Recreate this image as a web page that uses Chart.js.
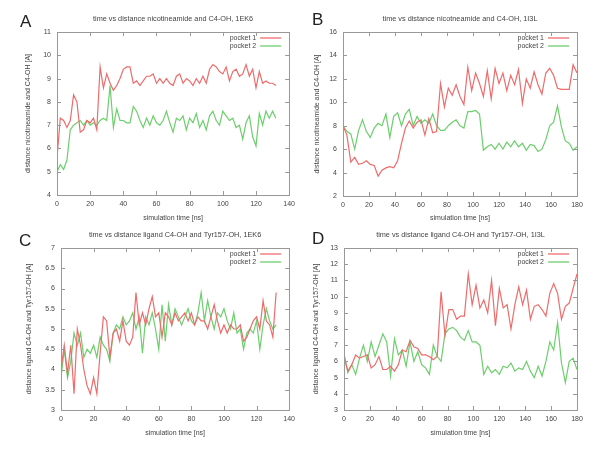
<!DOCTYPE html>
<html>
<head>
<meta charset="utf-8">
<script src="https://cdn.jsdelivr.net/npm/chart.js@4/dist/chart.umd.min.js"></script>
<style>
  body { margin: 0; background: #fff; width: 600px; height: 454px; position: relative; overflow: hidden; }
  canvas { position: absolute; }
  .letter { position: absolute; font-family: "Liberation Sans", Arial, sans-serif; font-size: 17px; line-height: 17px; color: #222; }
</style>
</head>
<body>
<canvas id="chart-a" width="300" height="227" style="left:0;top:0"></canvas>
<canvas id="chart-b" width="300" height="227" style="left:300px;top:0"></canvas>
<canvas id="chart-c" width="300" height="227" style="left:0;top:227px"></canvas>
<canvas id="chart-d" width="300" height="227" style="left:300px;top:227px"></canvas>
<div class="letter" style="left:20px;top:13px">A</div>
<div class="letter" style="left:312px;top:11px">B</div>
<div class="letter" style="left:19px;top:232px">C</div>
<div class="letter" style="left:312px;top:230px">D</div>
<script>
// Simulation time axes [ns]
const time1EK6 = [0, 2, 4, 6, 8, 10, 12, 14, 16, 18, 20, 22, 24, 26, 28, 30, 32, 34, 36, 38,
    40, 42, 44, 46, 48, 50, 52, 54, 56, 58, 60, 62, 64, 66, 68, 70, 72, 74, 76, 78,
    80, 82, 84, 86, 88, 90, 92, 94, 96, 98, 100, 102, 104, 106, 108, 110, 112, 114, 116, 118,
    120, 122, 124, 126, 128, 130, 132];
const time1I3L = [0, 3, 6, 9, 12, 15, 18, 21, 24, 27, 30, 33, 36, 39, 42, 45, 48, 51, 54, 57,
    60, 63, 66, 69, 72, 75, 78, 81, 84, 87, 90, 93, 96, 99, 102, 105, 108, 111, 114, 117,
    120, 123, 126, 129, 132, 135, 138, 141, 144, 147, 150, 153, 156, 159, 162, 165, 168, 171, 174, 177,
    180];

// A: nicotineamide - C4-OH, 1EK6
const nicPocket1EK6 = [5.6, 7.3, 7.2, 6.9, 7.2, 8.3, 8.0, 6.7, 6.8, 7.2, 7.1, 7.3, 6.8, 9.5, 8.6, 9.2, 8.8, 8.5, 8.7, 9.0,
    9.4, 9.5, 9.5, 8.8, 8.9, 8.7, 8.9, 9.1, 9.1, 9.2, 8.8, 9.0, 8.8, 9.0, 8.8, 8.7, 9.1, 9.2, 8.8, 9.0,
    8.9, 8.7, 9.0, 8.8, 9.1, 8.8, 9.4, 9.6, 9.5, 9.3, 9.2, 9.5, 8.9, 9.3, 9.4, 9.1, 9.2, 9.6, 9.1, 9.4,
    8.6, 9.3, 8.8, 8.9, 8.8, 8.8, 8.7];
const nicPocket2EK6 = [5.0, 5.3, 5.1, 5.5, 6.8, 7.0, 7.1, 7.2, 7.0, 7.2, 7.0, 7.1, 7.0, 7.2, 7.3, 7.2, 8.7, 6.9, 7.7, 7.2,
    7.2, 7.1, 7.1, 7.8, 7.6, 7.2, 6.9, 7.3, 7.0, 7.4, 7.1, 7.0, 7.2, 7.6, 7.1, 6.7, 7.3, 7.2, 7.4, 6.8,
    7.3, 7.1, 7.5, 6.9, 7.2, 6.8, 7.4, 7.6, 7.2, 7.0, 7.6, 7.4, 7.2, 7.3, 6.9, 7.0, 6.4, 7.1, 7.4, 6.5,
    6.1, 7.5, 7.0, 7.6, 7.3, 7.6, 7.3];

// B: nicotineamide - C4-OH, 1I3L
const nicPocket1I3L = [8.0, 7.2, 4.9, 5.3, 4.7, 4.8, 5.0, 4.7, 4.6, 3.7, 4.2, 4.4, 4.5, 4.4, 5.0, 6.5, 7.8, 8.4, 7.8, 8.3,
    8.5, 7.2, 8.6, 7.4, 7.5, 11.6, 9.6, 11.2, 10.6, 11.5, 10.5, 9.8, 13.0, 11.0, 12.5, 11.6, 10.5, 12.7, 10.3, 12.9,
    11.6, 12.5, 11.0, 12.3, 11.5, 12.8, 9.9, 12.0, 11.2, 12.6, 11.5, 10.7, 12.5, 12.9, 12.3, 11.2, 11.1, 11.1, 11.1, 13.2,
    12.5];
const nicPocket2I3L = [8.0, 7.5, 7.3, 6.0, 7.6, 8.5, 7.5, 7.0, 7.8, 8.2, 8.0, 9.0, 7.0, 8.8, 9.1, 8.0, 9.0, 9.4, 8.0, 8.8,
    8.2, 8.5, 8.2, 9.0, 8.0, 7.6, 7.6, 8.0, 8.3, 8.5, 8.0, 7.8, 9.2, 9.2, 9.3, 9.0, 5.9, 6.2, 6.4, 6.0,
    6.5, 6.0, 6.6, 6.2, 6.7, 6.2, 6.5, 5.9, 6.4, 6.3, 5.8, 6.0, 6.8, 8.0, 8.3, 9.7, 7.9, 6.7, 6.5, 5.9,
    6.2];

// C: ligand C4-OH - Tyr157-OH, 1EK6
const tyrPocket1EK6 = [4.0, 4.6, 3.9, 4.6, 3.4, 5.0, 4.6, 4.0, 3.6, 3.4, 3.8, 3.4, 4.4, 5.3, 5.2, 4.3, 4.9, 5.0, 4.7, 5.2,
    4.7, 4.6, 4.8, 5.9, 5.1, 5.4, 5.1, 5.5, 5.8, 5.3, 5.4, 4.8, 5.4, 5.3, 5.1, 5.4, 5.2, 5.3, 5.4, 5.2,
    5.4, 5.1, 5.3, 5.2, 5.2, 5.0, 5.3, 5.6, 5.2, 4.9, 5.1, 4.9, 5.1, 5.0, 5.0, 5.1, 4.7, 4.8, 5.0, 5.2,
    5.3, 5.0, 5.7, 5.2, 5.1, 4.8, 5.9];
const tyrPocket2EK6 = [3.8, 4.5, 3.8, 4.2, 4.9, 4.6, 4.9, 4.3, 4.5, 4.4, 4.6, 4.3, 4.8, 4.6, 4.5, 4.2, 4.9, 5.1, 5.0, 5.3,
    5.1, 5.2, 5.4, 5.0, 5.3, 4.4, 5.3, 5.1, 5.4, 5.0, 4.5, 5.6, 4.7, 5.6, 5.1, 5.5, 5.3, 5.1, 5.3, 5.5,
    5.2, 5.1, 5.4, 5.9, 5.2, 5.7, 5.3, 5.0, 5.4, 5.3, 5.5, 5.2, 5.0, 5.4, 4.9, 5.0, 4.5, 4.9, 5.0, 4.9,
    5.2, 4.5, 5.1, 5.5, 5.2, 5.0, 5.1];

// D: ligand C4-OH - Tyr157-OH, 1I3L
const tyrPocket1I3L = [6.3, 5.4, 5.8, 6.4, 6.2, 6.3, 6.4, 5.6, 5.8, 6.3, 5.5, 5.5, 5.7, 5.4, 5.8, 6.7, 6.6, 7.3, 6.9, 6.8,
    6.4, 6.4, 6.3, 6.1, 6.3, 10.3, 7.6, 9.2, 9.2, 8.6, 8.8, 8.8, 11.4, 9.5, 10.7, 9.3, 9.8, 9.0, 11.0, 8.2,
    10.5, 9.3, 9.5, 8.0, 9.5, 10.6, 9.5, 10.4, 8.6, 9.4, 9.5, 9.2, 8.8, 10.2, 10.8, 10.2, 8.6, 9.4, 9.6, 10.5,
    11.4];
const tyrPocket2I3L = [6.5, 5.3, 5.8, 5.2, 6.2, 7.0, 6.0, 7.2, 6.3, 7.0, 7.7, 7.2, 5.1, 7.4, 6.4, 6.7, 5.7, 7.2, 6.0, 6.6,
    5.8, 5.6, 5.2, 7.0, 6.3, 6.0, 7.7, 8.0, 8.1, 7.9, 7.5, 7.3, 7.9, 7.2, 7.2, 7.0, 5.2, 5.7, 5.3, 5.5,
    5.2, 5.7, 5.6, 5.9, 5.4, 5.6, 5.5, 6.0, 5.4, 5.0, 5.7, 5.1, 6.0, 7.2, 6.7, 8.4, 5.9, 4.7, 6.0, 6.2,
    5.5];

const seriesLabels = ['pocket 1', 'pocket 2'];
const RED = 'rgb(238, 108, 108)';
const GREEN = 'rgb(108, 206, 108)';
const FONT = '"Liberation Sans", Arial, sans-serif';
const TEXT = '#444';

// gnuplot style box with inward ticks on all four sides
const framePlugin = {
    id: 'frame',
    afterDatasetsDraw(chart) {
        const { ctx, chartArea: a, scales: { x, y } } = chart;
        ctx.save();
        ctx.strokeStyle = '#999';
        ctx.lineWidth = 1;
        ctx.strokeRect(Math.round(a.left) + 0.5, Math.round(a.top) + 0.5, Math.round(a.width), Math.round(a.height));
        ctx.beginPath();
        x.ticks.forEach(t => {
            const px = Math.round(x.getPixelForValue(t.value)) + 0.5;
            ctx.moveTo(px, a.bottom); ctx.lineTo(px, a.bottom - 4);
            ctx.moveTo(px, a.top); ctx.lineTo(px, a.top + 4);
        });
        y.ticks.forEach(t => {
            const py = Math.round(y.getPixelForValue(t.value)) + 0.5;
            ctx.moveTo(a.left, py); ctx.lineTo(a.left + 4, py);
            ctx.moveTo(a.right, py); ctx.lineTo(a.right - 4, py);
        });
        ctx.stroke();
        ctx.restore();
    }
};

// title centred over the plot box, not the whole canvas
const panelTitlePlugin = {
    id: 'panelTitle',
    afterDraw(chart, args, opts) {
        const { ctx, chartArea: a } = chart;
        ctx.save();
        ctx.font = '7.3px ' + FONT;
        ctx.fillStyle = TEXT;
        ctx.textAlign = 'center';
        ctx.textBaseline = 'middle';
        ctx.fillText(opts.text, (a.left + a.right) / 2, opts.y);
        ctx.restore();
    }
};

// key in the top right corner, text then line sample
const keyPlugin = {
    id: 'key',
    afterDraw(chart) {
        const { ctx, chartArea: a } = chart;
        ctx.save();
        ctx.font = '7px ' + FONT;
        ctx.textAlign = 'right';
        ctx.textBaseline = 'middle';
        chart.data.datasets.forEach((ds, i) => {
            const yy = a.top + 6 + i * 8;
            ctx.fillStyle = TEXT;
            ctx.fillText(ds.label, a.right - 33, yy);
            ctx.strokeStyle = ds.borderColor;
            ctx.lineWidth = 1.3;
            ctx.beginPath();
            ctx.moveTo(a.right - 29, yy);
            ctx.lineTo(a.right - 8, yy);
            ctx.stroke();
        });
        ctx.restore();
    }
};

function toPoints(times, values) {
    return times.map((t, i) => ({ x: t, y: values[i] }));
}

function makePanel(id, p) {
    new Chart(document.getElementById(id), {
        type: 'line',
        data: {
            datasets: [
                { label: seriesLabels[0], data: toPoints(p.time, p.pocket1), borderColor: RED, borderWidth: 1.2, pointRadius: 0, tension: 0 },
                { label: seriesLabels[1], data: toPoints(p.time, p.pocket2), borderColor: GREEN, borderWidth: 1.2, pointRadius: 0, tension: 0 }
            ]
        },
        options: {
            responsive: false,
            animation: false,
            events: [],
            layout: { padding: { left: 0, right: p.padRight, top: p.plotTop, bottom: 0 } },
            plugins: {
                legend: { display: false },
                tooltip: { enabled: false },
                title: { display: false },
                panelTitle: { text: p.title, y: p.titleY }
            },
            scales: {
                x: {
                    type: 'linear',
                    min: 0,
                    max: p.xMax,
                    grid: { display: false, drawTicks: false },
                    border: { display: false },
                    ticks: { stepSize: 20, padding: 5, color: TEXT, font: { family: FONT, size: 7 }, maxRotation: 0 },
                    title: { display: true, text: 'simulation time [ns]', color: TEXT, font: { family: FONT, size: 7 }, padding: { top: 0, bottom: p.xTitleBottom } },
                    afterFit: s => { s.height = p.xHeight; }
                },
                y: {
                    min: p.yMin,
                    max: p.yMax,
                    grid: { display: false, drawTicks: false },
                    border: { display: false },
                    ticks: { stepSize: p.yStep, padding: 6, color: TEXT, font: { family: FONT, size: 7 }, callback: v => String(v) },
                    title: { display: true, text: p.yTitle, color: TEXT, font: { family: FONT, size: 7 }, padding: { top: p.yTitleLeft, bottom: 0 } },
                    afterFit: s => { s.width = p.yWidth; }
                }
            }
        },
        plugins: [framePlugin, panelTitlePlugin, keyPlugin]
    });
}

makePanel('chart-a', {
    time: time1EK6, pocket1: nicPocket1EK6, pocket2: nicPocket2EK6,
    title: 'time vs distance nicotineamide and C4-OH, 1EK6',
    yTitle: 'distance nicotineamide and C4-OH [A]',
    xMax: 140, yMin: 4, yMax: 11, yStep: 1,
    yWidth: 57, padRight: 10, plotTop: 32, titleY: 19, xHeight: 32, xTitleBottom: 5, yTitleLeft: 24
});
makePanel('chart-b', {
    time: time1I3L, pocket1: nicPocket1I3L, pocket2: nicPocket2I3L,
    title: 'time vs distance nicotneamide and C4-OH, 1I3L',
    yTitle: 'distance nicotineamide and C4-OH [A]',
    xMax: 180, yMin: 2, yMax: 16, yStep: 2,
    yWidth: 43, padRight: 23, plotTop: 32, titleY: 19, xHeight: 31, xTitleBottom: 5, yTitleLeft: 13
});
makePanel('chart-c', {
    time: time1EK6, pocket1: tyrPocket1EK6, pocket2: tyrPocket2EK6,
    title: 'time vs distance ligand C4-OH and Tyr157-OH, 1EK6',
    yTitle: 'distance ligand C4-OH and Tyr157-OH [A]',
    xMax: 140, yMin: 3, yMax: 7, yStep: 0.5,
    yWidth: 61, padRight: 10, plotTop: 21, titleY: 8, xHeight: 44, xTitleBottom: 17, yTitleLeft: 25
});
makePanel('chart-d', {
    time: time1I3L, pocket1: tyrPocket1I3L, pocket2: tyrPocket2I3L,
    title: 'time vs distance ligand C4-OH and Tyr157-OH, 1I3L',
    yTitle: 'distance ligand C4-OH and Tyr157-OH [A]',
    xMax: 180, yMin: 3, yMax: 13, yStep: 1,
    yWidth: 44, padRight: 23, plotTop: 21, titleY: 8, xHeight: 44, xTitleBottom: 17, yTitleLeft: 12
});
</script>
</body>
</html>
